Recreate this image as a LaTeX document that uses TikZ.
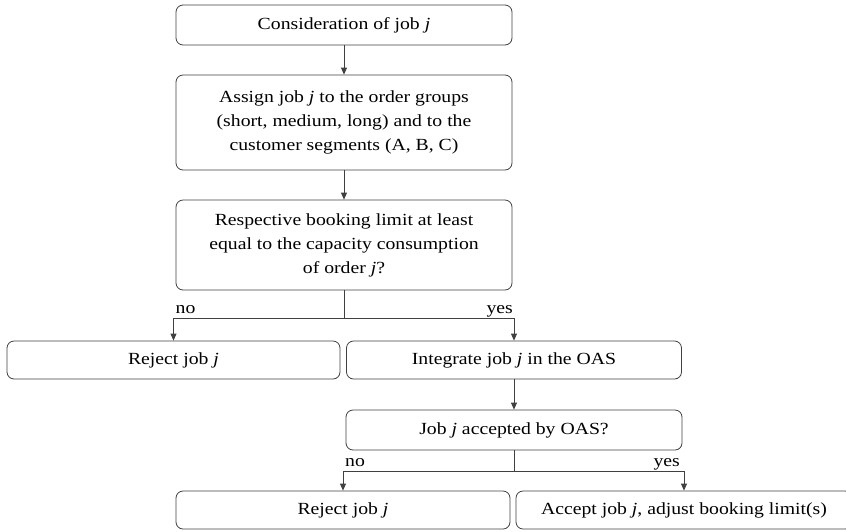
\documentclass[tikz,border=0pt]{standalone}
\usepackage{fontspec}
\setmainfont{Liberation Serif}[FakeStretch=1.16]
\usetikzlibrary{positioning}
\usetikzlibrary{arrows.meta}

\tikzset{
	stepbox/.style={draw=black!75, line width=0.8pt, rounded corners=7pt, align=center,
			inner sep=0pt, font=\fontsize{17}{24}\selectfont},
	wire/.style={draw=black!75, line width=0.8pt},
	flow/.style={wire, -{Triangle[length=7pt,width=6pt]}},
	lbl/.style={font=\fontsize{17}{20}\selectfont, inner sep=0pt},
}

\begin{document}
\begin{tikzpicture}[x=1pt,y=1pt]
		\useasboundingbox (0,0) rectangle (846,-531);
		\clip (0,0) rectangle (846,-531);

		% Main column
		\node[stepbox, minimum width=336pt, minimum height=40pt] (consider) at (344,-25) {Consideration of job \textit{j}};
		\node[stepbox, minimum width=336pt, minimum height=95pt] (assign) at (344,-122.5)
		{Assign job \textit{j} to the order groups\\(short, medium, long) and to the\\customer segments (A, B, C)};
		\node[stepbox, minimum width=336pt, minimum height=90pt] (check) at (344,-245)
		{Respective booking limit at least\\equal to the capacity consumption\\of order \textit{j}?};

		% First decision
		\node[stepbox, minimum width=333pt, minimum height=38pt] (reject1) at (173.5,-360) {Reject job \textit{j}};
		\node[stepbox, minimum width=335pt, minimum height=38pt] (integrate) at (514,-360) {Integrate job \textit{j} in the OAS};
		\node[stepbox, minimum width=336pt, minimum height=40pt] (oas) at (514,-430) {Job \textit{j} accepted by OAS?};

		% Second decision
		\node[stepbox, minimum width=334pt, minimum height=38pt] (reject2) at (343,-510) {Reject job \textit{j}};
		\node[stepbox, minimum width=336pt, minimum height=38pt] (accept) at (684,-510) {Accept job \textit{j}, adjust booking limit(s)};

		\coordinate (split1) at (344,-318);
		\coordinate (split2) at (514,-471);

		\draw[flow] (consider) -- (assign);
		\draw[flow] (assign) -- (check);
		\draw[wire] (check) -- (split1);
		\draw[flow] (split1) -| (reject1);
		\draw[flow] (split1) -| (integrate);
		\draw[flow] (integrate) -- (oas);
		\draw[wire] (oas) -- (split2);
		\draw[flow] (split2) -| (reject2);
		\draw[flow] (split2) -| (accept);

		% Branch labels
		\node[lbl, anchor=base west, xshift=2pt, yshift=5pt] at (reject1.north |- split1) {no};
		\node[lbl, anchor=base east, xshift=-1pt, yshift=5pt] at (integrate.north |- split1) {yes};
		\node[lbl, anchor=base west, xshift=2pt, yshift=5pt] at (reject2.north |- split2) {no};
		\node[lbl, anchor=base east, xshift=-4pt, yshift=5pt] at (accept.north |- split2) {yes};
	\end{tikzpicture}
\end{document}
